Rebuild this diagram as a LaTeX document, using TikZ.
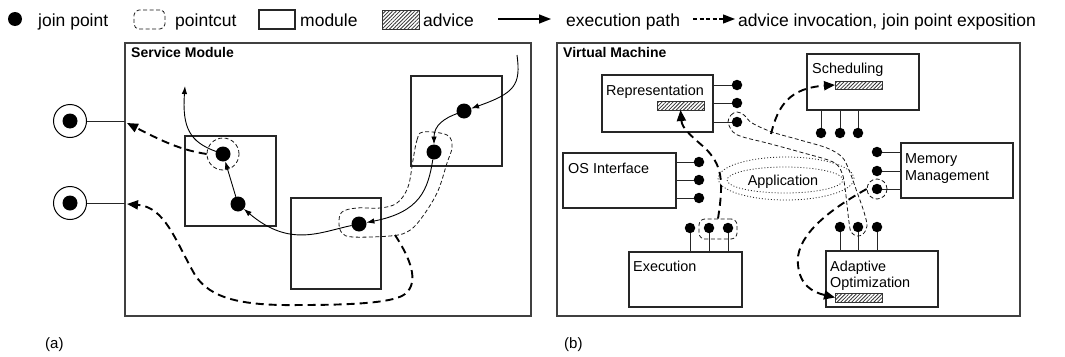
\documentclass[tikz,border=0pt]{standalone}
\usepackage{fontspec}
\setmainfont{Liberation Sans}
\usetikzlibrary{arrows.meta,patterns.meta,shapes.geometric}

\begin{document}
\begin{tikzpicture}[x=1pt,y=-1pt,
  panel/.style={draw=black!75, line width=1.4pt, inner sep=0, outer sep=0, anchor=north west},
  module/.style={draw=black!85, line width=1.1pt, inner sep=0, outer sep=0, anchor=north west},
  jp/.style={circle, fill=black, inner sep=0, outer sep=0, minimum size=15pt},
  sjp/.style={circle, fill=black, inner sep=0, outer sep=0, minimum size=10.5pt},
  pc/.style={draw=black!90, line width=0.8pt, dash pattern=on 4pt off 2.5pt},
  stem/.style={draw=black!85, line width=0.9pt},
  exec/.style={draw=black, line width=0.9pt, -{Latex[length=8pt,width=5.5pt]}},
  adv/.style={draw=black, line width=1.9pt, dash pattern=on 8pt off 5pt, -{Triangle[length=11pt,width=9pt]}},
  hatch/.style={draw=black!80, line width=0.6pt, inner sep=0, outer sep=0, anchor=north west,
    pattern={Lines[angle=45,distance=2.6pt,line width=0.8pt]}, pattern color=black!80},
  lbl/.style={anchor=base west, inner sep=0, font=\fontsize{14.4}{17}\selectfont},
  leg/.style={anchor=base west, inner sep=0, font=\fontsize{17.5}{20}\selectfont},
  ttl/.style={anchor=base west, inner sep=0, font=\bfseries\fontsize{14}{17}\selectfont},
  app/.style={draw=black!85, line width=0.8pt, dash pattern=on 1pt off 2pt, ellipse, inner sep=0},
]
\useasboundingbox[fill=white] (0,0) rectangle (1065,356);

% ---------------- legend ----------------
\node[jp, minimum size=14pt] (lgjp) at (15,19) {};
\node[leg] (lgjpt) at (38,26) {join point};
\node[pc, rounded corners=5pt, minimum width=31pt, minimum height=19pt, inner sep=0] (lgpc) at (149.5,19.5) {};
\node[leg] (lgpct) at (175,26) {pointcut};
\node[module, minimum width=36pt, minimum height=19pt] (lgmod) at (259,10) {};
\node[leg] (lgmodt) at (300,26) {module};
\node[hatch, minimum width=37pt, minimum height=19pt, line width=0.9pt] (lgadv) at (382,10) {};
\node[leg] (lgadvt) at (423,26) {advice};
\coordinate (le1) at (498,19);
\coordinate (le2) at (551,19);
\draw[line width=1.6pt, -{Triangle[length=12pt,width=9pt]}] (le1) -- (le2);
\node[leg] (lgext) at (566,26) {execution path};
\coordinate (ld1) at (693,19);
\coordinate (ld2) at (735,19);
\draw[line width=1.3pt, dash pattern=on 4pt off 2.5pt, -{Triangle[length=12pt,width=9pt]}] (ld1) -- (ld2);
\node[leg] (lgadt) at (738,26) {advice invocation, join point exposition};

% ---------------- (a) service module ----------------
\node[panel, minimum width=406pt, minimum height=273pt] (svc) at (125,43) {};
\node[ttl] (svct) at (131,57) {Service Module};

\node[circle, draw=black, line width=1pt, minimum size=33pt, inner sep=0] (out1) at (70,121) {};
\node[jp] (out1d) at (out1) {};
\node[circle, draw=black, line width=1pt, minimum size=33pt, inner sep=0] (out2) at (70,203) {};
\node[jp] (out2d) at (out2) {};
\draw[stem] (out1.east) -- (svc.west |- out1.east);
\draw[stem] (out2.east) -- (svc.west |- out2.east);

\node[module, minimum width=91pt, minimum height=90pt] (ma) at (185,136) {};
\node[module, minimum width=90pt, minimum height=91pt] (mb) at (291,198) {};
\node[module, minimum width=91pt, minimum height=90pt] (mc) at (411,76) {};

\node[jp] (J1) at (223,154) {};
\node[jp] (J2) at (238,204) {};
\node[jp] (J3) at (359,224) {};
\node[jp] (J4) at (434,152) {};
\node[jp] (J5) at (464,111) {};

\node[pc, circle, minimum size=32pt, inner sep=0] (J1pc) at (J1) {};
\draw[pc] plot[smooth cycle, tension=0.6] coordinates {
  (413,160) (417,140) (423,132) (447,135) (452,147) (447,163) (437,193)
  (420,220) (407,232) (390,236) (353,237) (342,233) (339,223) (342,212)
  (357,208) (380,208) (397,203) (408,187)};

% execution path
\coordinate (entry) at (517,55);
\coordinate (exit) at (185,86);
\draw[exec] (entry) .. controls (521,85) and (515,93) .. (J5);
\draw[exec] (J5) .. controls (445,118) and (434,125) .. (J4);
\draw[exec] (J4) .. controls (428,190) and (420,212) .. (J3);
\draw[exec] (J3) .. controls (320,232) and (290,248) .. (J2);
\draw[exec] (J2) -- (J1);
\draw[exec] (J1) .. controls (190,142) and (182,128) .. (exit);

% advice invocations
\coordinate (a1end) at (127,123);
\coordinate (a2start) at (395,235);
\coordinate (a2end) at (127,204);
\draw[adv] (J1pc.west) .. controls (180,150) and (160,140) .. (a1end);
\draw[adv] (a2start) .. controls (410,258) and (420,282) .. (405,294)
  .. controls (395,302) and (360,305) .. (300,305)
  .. controls (240,306) and (210,298) .. (195,275)
  .. controls (175,240) and (165,207) .. (a2end);

\node[font=\fontsize{15}{18}\selectfont, anchor=base west, inner sep=0] (lba) at (45,348) {(a)};

% ---------------- (b) virtual machine ----------------
\node[panel, minimum width=463pt, minimum height=273pt] (vm) at (557,43) {};
\node[ttl] (vmt) at (563,57) {Virtual Machine};

\node[module, minimum width=111pt, minimum height=57pt] (rep) at (602,75) {};
\node[lbl] (rept) at (606,95.5) {Representation};
\node[hatch, minimum width=47pt, minimum height=9pt] (repadv) at (657,101) {};

\node[module, minimum width=113pt, minimum height=55pt] (os) at (563,153) {};
\node[lbl] (ost) at (568,173) {OS Interface};

\node[module, minimum width=113pt, minimum height=55pt] (exe) at (629,252) {};
\node[lbl] (exet) at (633,271) {Execution};

\node[module, minimum width=112pt, minimum height=56pt] (sch) at (807,54) {};
\node[lbl] (scht) at (812,73.5) {Scheduling};
\node[hatch, minimum width=47pt, minimum height=8pt] (schadv) at (835,81) {};

\node[module, minimum width=112pt, minimum height=55pt] (mem) at (901,143) {};
\node[lbl] (memt1) at (905,163) {Memory};
\node[lbl] (memt2) at (905,180) {Management};

\node[module, minimum width=112pt, minimum height=56pt] (ada) at (826,251) {};
\node[lbl] (adat1) at (830,271) {Adaptive};
\node[lbl] (adat2) at (830,287) {Optimization};
\node[hatch, minimum width=47pt, minimum height=9pt] (adaadv) at (835,293) {};

% join points of the components
\foreach \n/\y in {r1/85, r2/103, r3/122} {
  \node[sjp] (\n) at (737,\y) {};
  \draw[stem] (rep.east |- \n) -- (\n);
}
\foreach \n/\y in {o1/162, o2/180, o3/198} {
  \node[sjp] (\n) at (699,\y) {};
  \draw[stem] (os.east |- \n) -- (\n);
}
\foreach \n/\x in {e1/690, e2/709, e3/728} {
  \node[sjp] (\n) at (\x,228) {};
  \draw[stem] (\n) -- (\n |- exe.north);
}
\foreach \n/\x in {s1/821, s2/840, s3/858} {
  \node[sjp] (\n) at (\x,133) {};
  \draw[stem] (\n) -- (\n |- sch.south);
}
\foreach \n/\y in {g1/152, g2/171, g3/189} {
  \node[sjp] (\n) at (877,\y) {};
  \draw[stem] (mem.west |- \n) -- (\n);
}
\foreach \n/\x in {d1/840, d2/858, d3/877} {
  \node[sjp] (\n) at (\x,227) {};
  \draw[stem] (\n) -- (\n |- ada.north);
}

% application
\node[app, minimum width=136pt, minimum height=43pt] (appout) at (786,178.5) {};
\node[app, minimum width=116pt, minimum height=26pt] (appin) at (785,180) {};
\node[lbl, anchor=base] (appt) at (783,185) {Application};

% pointcuts
\node[pc, rounded corners=6pt, minimum width=38pt, minimum height=20pt, inner sep=0] (epc) at (718,229) {};
\node[pc, circle, minimum size=20pt, inner sep=0] (gpc) at (g3) {};
\draw[pc] plot[smooth cycle, tension=0.55] coordinates {
  (728,122) (731,115) (737,112) (744,115) (752,123) (772,132) (800,140)
  (827,148) (842,157) (849,170) (857,192) (864,212) (867,226) (863,234)
  (857,236) (851,232) (849,222) (847,205) (845,188) (842,173) (833,162)
  (800,152) (767,143) (743,137) (733,132)};

% advice invocations
\coordinate (b2start) at (771,134);
\draw[adv] (epc.north) .. controls (724,180) and (722,165) .. (705,148)
  .. controls (690,135) and (682,128) .. (repadv.south);
\draw[adv] (b2start) .. controls (778,105) and (790,88) .. (schadv.west);
\draw[adv] (gpc.west) .. controls (820,215) and (795,240) .. (798,265)
  .. controls (800,285) and (812,292) .. (adaadv.west);

\node[font=\fontsize{15}{18}\selectfont, anchor=base west, inner sep=0] (lbb) at (564,348) {(b)};
\end{tikzpicture}
\end{document}
